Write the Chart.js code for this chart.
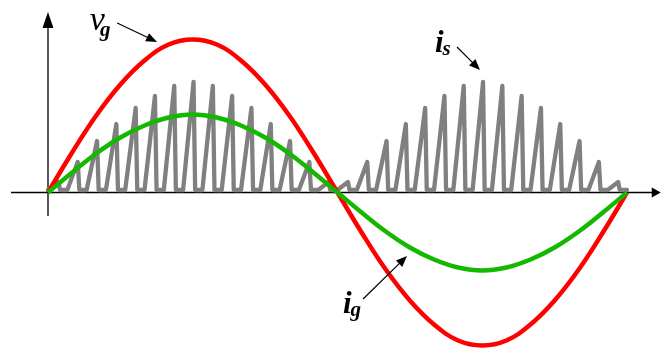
<!DOCTYPE html>
<html>
<head>
<meta charset="utf-8">
<script src="https://cdn.jsdelivr.net/npm/chart.js@4"></script>
<style>
  body { margin: 0; background: #fff; }
  canvas { display: block; }
</style>
</head>
<body>
<canvas id="myChart" width="662" height="350"></canvas>
<script>
// phase angle in degrees, one grid cycle
var angles = [0, 15, 30, 45, 60, 75, 90, 105, 120, 135, 150, 165, 180,
              195, 210, 225, 240, 255, 270, 285, 300, 315, 330, 345, 360];
// grid voltage v_g and grid current i_g
var vgValues = [0, 40, 77, 108, 132, 148, 153, 148, 132, 108, 77, 40, 0,
                -40, -77, -108, -132, -148, -153, -148, -132, -108, -77, -40, 0];
var igValues = [0, 20, 39, 55, 67, 75, 78, 75, 67, 55, 39, 20, 0,
                -20, -39, -55, -67, -75, -78, -75, -67, -55, -39, -20, 0];

// switch current i_s: peak of each switching pulse
var pulseHeights = [8, 28, 49, 66, 82, 94, 104, 108, 104, 94, 82, 66, 49, 28, 8,
                    8, 28, 49, 66, 82, 94, 104, 108, 104, 94, 82, 66, 49, 28, 8];
var pulseBase = 2.5;      // resting level of i_s
var switchPeriod = 12;    // degrees per switching cycle
var riseTime = 6.5;       // ramp-up part of a cycle
var fallTime = 1;         // drop back to rest

// text labels and pointer arrows, in chart units
var labelTexts = [['v', 'g'], ['i', 's'], ['i', 'g']];
var labelX = [26, 240.6, 183.4];
var labelY = [162.5, 140.5, -120.5];
var arrowFrom = [[43, 169.5], [254.3, 145.5], [195.9, -106.5]];
var arrowTo = [[67.8, 150.5], [268.6, 122.5], [223.2, -63.5]];

var serif = '"Liberation Serif", "Times New Roman", serif';

function toPoints(xs, ys) {
    var pts = [];
    for (var i = 0; i < xs.length; i++) pts.push({x: xs[i], y: ys[i]});
    return pts;
}

function switchPoints() {
    var pts = [];
    for (var k = 0; k < pulseHeights.length; k++) {
        var t0 = k * switchPeriod;
        pts.push({x: t0, y: pulseBase});
        pts.push({x: t0 + riseTime, y: pulseBase + pulseHeights[k]});
        pts.push({x: t0 + riseTime + fallTime, y: pulseBase});
    }
    pts.push({x: pulseHeights.length * switchPeriod, y: pulseBase});
    return pts;
}

function arrowHead(ctx, x0, y0, x1, y1, len, half) {
    var a = Math.atan2(y1 - y0, x1 - x0);
    ctx.beginPath();
    ctx.moveTo(x1, y1);
    ctx.lineTo(x1 - len * Math.cos(a) + half * Math.sin(a), y1 - len * Math.sin(a) - half * Math.cos(a));
    ctx.lineTo(x1 - len * Math.cos(a) - half * Math.sin(a), y1 - len * Math.sin(a) + half * Math.cos(a));
    ctx.closePath();
    ctx.fill();
}

var axesPlugin = {
    id: 'axes',
    beforeDatasetsDraw: function(chart) {
        var ctx = chart.ctx;
        var xs = chart.scales.x, ys = chart.scales.y;
        var x0 = xs.getPixelForValue(0), y0 = ys.getPixelForValue(0);
        var xStart = xs.getPixelForValue(-23), xEnd = xs.getPixelForValue(381);
        var yStart = ys.getPixelForValue(-23.5), yEnd = ys.getPixelForValue(180.5);
        ctx.save();
        ctx.strokeStyle = '#000';
        ctx.fillStyle = '#000';
        ctx.lineWidth = 1.3;
        ctx.beginPath();
        ctx.moveTo(xStart, y0);
        ctx.lineTo(xEnd - 6, y0);
        ctx.moveTo(x0, yStart);
        ctx.lineTo(x0, yEnd + 8);
        ctx.stroke();
        arrowHead(ctx, xStart, y0, xEnd, y0, 9, 5);
        arrowHead(ctx, x0, yStart, x0, yEnd, 16, 5.5);
        ctx.restore();
    },
    afterDatasetsDraw: function(chart) {
        var ctx = chart.ctx;
        var xs = chart.scales.x, ys = chart.scales.y;
        ctx.save();
        ctx.strokeStyle = '#000';
        ctx.fillStyle = '#000';
        ctx.lineWidth = 1.2;
        for (var i = 0; i < arrowFrom.length; i++) {
            var ax = xs.getPixelForValue(arrowFrom[i][0]), ay = ys.getPixelForValue(arrowFrom[i][1]);
            var bx = xs.getPixelForValue(arrowTo[i][0]), by = ys.getPixelForValue(arrowTo[i][1]);
            var a = Math.atan2(by - ay, bx - ax);
            ctx.beginPath();
            ctx.moveTo(ax, ay);
            ctx.lineTo(bx - 8 * Math.cos(a), by - 8 * Math.sin(a));
            ctx.stroke();
            arrowHead(ctx, ax, ay, bx, by, 11, 4.5);
        }
        ctx.textBaseline = 'alphabetic';
        ctx.textAlign = 'left';
        for (var j = 0; j < labelTexts.length; j++) {
            var px = xs.getPixelForValue(labelX[j]), py = ys.getPixelForValue(labelY[j]);
            var main = labelTexts[j][0], sub = labelTexts[j][1];
            ctx.font = (main == 'v' ? 'italic 34px ' : 'italic bold 31px ') + serif;
            ctx.fillText(main, px, py);
            var w = ctx.measureText(main).width;
            ctx.font = 'italic bold 21px ' + serif;
            ctx.fillText(sub, px + w - (main == 'v' ? 5 : 1), py + (main == 'v' ? 6 : 3));
        }
        ctx.restore();
    }
};

var ctx = document.getElementById('myChart').getContext('2d');
var myChart = new Chart(ctx, {
    type: 'line',
    data: {
        datasets: [{
            label: 'i_g',
            data: toPoints(angles, igValues),
            borderColor: '#14b800',
            borderWidth: 4.5,
            tension: 0.4
        },
        {
            label: 'v_g',
            data: toPoints(angles, vgValues),
            borderColor: '#ff0000',
            borderWidth: 4.5,
            tension: 0.4
        },
        {
            label: 'i_s',
            data: switchPoints(),
            borderColor: '#808080',
            borderWidth: 4.3,
            borderJoinStyle: 'round',
            borderCapStyle: 'round',
            tension: 0
        }]
    },
    options: {
        responsive: false,
        animation: false,
        layout: {padding: 0},
        elements: {point: {radius: 0}},
        plugins: {legend: {display: false}, tooltip: {enabled: false}},
        scales: {
            x: {type: 'linear', display: false, min: -29.84, max: 381.76},
            y: {type: 'linear', display: false, min: -157.5, max: 192.5}
        }
    },
    plugins: [axesPlugin]
});
</script>
</body>
</html>
